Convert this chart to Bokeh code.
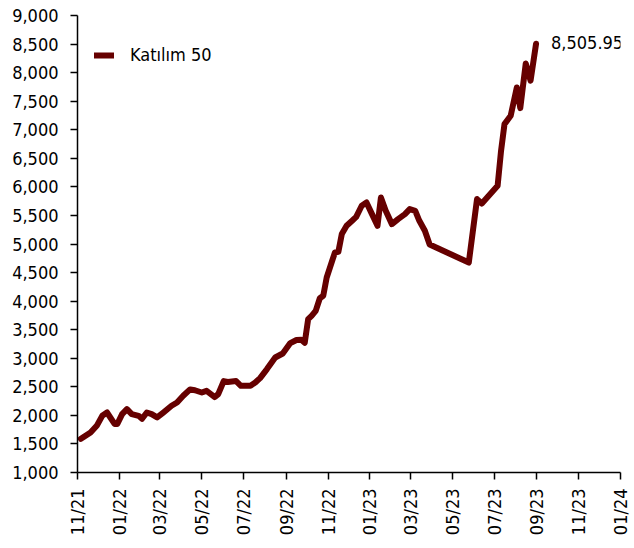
import pandas as pd
from bokeh.plotting import figure
from bokeh.models import (Range1d, FixedTicker, DatetimeTickFormatter, NumeralTickFormatter,
                          Legend, LegendItem, Label)
from bokeh.embed import file_html
from bokeh.resources import INLINE

# ---- data ----
dates = [
    "2021-11-06", "2021-11-20", "2021-11-29", "2021-12-07", "2021-12-14", "2021-12-25", "2021-12-29",
    "2022-01-05", "2022-01-12", "2022-01-19", "2022-01-29", "2022-02-03", "2022-02-10", "2022-02-17",
    "2022-02-25", "2022-03-06", "2022-03-18", "2022-03-26", "2022-04-04", "2022-04-14", "2022-04-21",
    "2022-05-01", "2022-05-08", "2022-05-20", "2022-05-25", "2022-06-02", "2022-06-08", "2022-06-20",
    "2022-06-27", "2022-07-11", "2022-07-18", "2022-07-25", "2022-08-04", "2022-08-16", "2022-08-27",
    "2022-09-07", "2022-09-16", "2022-09-23", "2022-09-28", "2022-10-03", "2022-10-08", "2022-10-14",
    "2022-10-20", "2022-10-25", "2022-10-30", "2022-11-07", "2022-11-11", "2022-11-16", "2022-11-21",
    "2022-11-28", "2022-12-06", "2022-12-12", "2022-12-20", "2022-12-27", "2023-01-04", "2023-01-12",
    "2023-01-17", "2023-01-24", "2023-02-02", "2023-02-11", "2023-02-21", "2023-02-28", "2023-03-08",
    "2023-03-14", "2023-03-22", "2023-03-29", "2023-05-25", "2023-06-06", "2023-06-13", "2023-07-06",
    "2023-07-11", "2023-07-16", "2023-07-25", "2023-08-03", "2023-08-08", "2023-08-16", "2023-08-23",
    "2023-08-31",
]
katilim50 = [
    1590, 1700, 1817, 1992, 2050, 1850, 1850,
    2022, 2110, 2022, 1992, 1940, 2050, 2022,
    1965, 2050, 2168, 2225, 2343, 2455, 2440,
    2400, 2430, 2320, 2372, 2600, 2585, 2600,
    2518, 2520, 2576, 2652, 2810, 3013, 3083,
    3265, 3320, 3323, 3270, 3685, 3743, 3830,
    4050, 4093, 4414, 4706, 4851, 4863, 5173,
    5319, 5407, 5476, 5669, 5726, 5523, 5319,
    5814, 5581, 5348, 5436, 5523, 5611, 5581,
    5406, 5231, 4990, 4676, 5786, 5709, 6019,
    6631, 7099, 7244, 7740, 7379, 8160, 7860,
    8505.95,
]
series_name = "Katılım 50"
x_start, x_end = "2021-11-01", "2024-01-01"
y_start, y_end = 1000, 9000

FONT = "DejaVu Sans Condensed"
COLOR = "#660000"

xs = pd.to_datetime(dates)
tick_dates = pd.date_range(x_start, x_end, freq="2MS")
tick_ms = [int(t.value // 10**6) for t in tick_dates]

p = figure(width=634, height=548, output_backend="svg", toolbar_location=None,
           x_axis_type="datetime",
           x_range=Range1d(pd.Timestamp(x_start), pd.Timestamp(x_end)),
           y_range=Range1d(y_start, y_end),
           min_border_left=77, min_border_right=14, min_border_top=15, min_border_bottom=76)
p.frame_width = 543
p.frame_height = 457
p.outline_line_color = None
p.xgrid.visible = False
p.ygrid.visible = False
p.background_fill_color = "white"
p.border_fill_color = "white"

r = p.line(xs, katilim50, line_color=COLOR, line_width=6, line_join="round", line_cap="round")

# axes
for ax in (p.xaxis[0], p.yaxis[0]):
    ax.axis_line_color = "black"
    ax.axis_line_width = 1.5
    ax.major_tick_line_color = "black"
    ax.major_tick_line_width = 1.5
    ax.major_tick_in = 0
    ax.major_tick_out = 7
    ax.minor_tick_line_color = None
    ax.major_label_text_font = FONT
    ax.major_label_text_font_size = "18px"
    ax.major_label_text_color = "black"

p.yaxis[0].ticker = FixedTicker(ticks=list(range(y_start, y_end + 1, 500)))
p.yaxis[0].formatter = NumeralTickFormatter(format="0,0")
p.yaxis[0].major_label_standoff = 12

p.xaxis[0].ticker = FixedTicker(ticks=tick_ms)
fmt = "%m/%y"
p.xaxis[0].formatter = DatetimeTickFormatter(
    microseconds=fmt, milliseconds=fmt, seconds=fmt, minsec=fmt, minutes=fmt,
    hourmin=fmt, hours=fmt, days=fmt, months=fmt, years=fmt)
p.xaxis[0].major_label_orientation = 3.14159265 / 2
p.xaxis[0].major_label_standoff = 9

legend = Legend(items=[LegendItem(label=series_name, renderers=[r])],
                location=(17, 407), border_line_color=None, background_fill_alpha=0,
                label_text_font=FONT, label_text_font_size="18px", label_text_color="black",
                label_standoff=16, glyph_width=20, padding=8)
p.add_layout(legend)

p.add_layout(Label(x=xs[-1], y=katilim50[-1], text=f"{katilim50[-1]:,.2f}",
                   x_offset=15, y_offset=1, text_baseline="middle", text_align="left",
                   text_font=FONT, text_font_size="18px", text_color="black"))

open("out.html", "w").write(file_html(p, INLINE))
